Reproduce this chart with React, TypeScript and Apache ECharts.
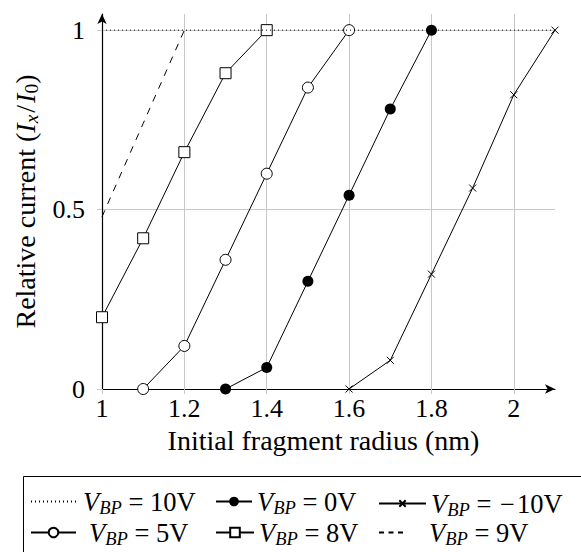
import React, { useEffect, useRef } from 'react';
import * as echarts from 'echarts';

const xTicks = [1, 1.2, 1.4, 1.6, 1.8, 2];
const yTicks = [0, 0.5, 1];

const seriesNames = ['10V', '0V', '\u221210V', '5V', '8V', '9V'];
const v10 = [[1, 1], [2.1, 1]];
const v0 = [[1.3, 0], [1.4, 0.06], [1.5, 0.3], [1.6, 0.54], [1.7, 0.78], [1.8, 1]];
const vm10 = [[1.6, 0], [1.7, 0.08], [1.8, 0.32], [1.9, 0.56], [2.0, 0.82], [2.1, 1]];
const v5 = [[1.1, 0], [1.2, 0.12], [1.3, 0.36], [1.4, 0.6], [1.5, 0.84], [1.6, 1]];
const v8 = [[1, 0.2], [1.1, 0.42], [1.2, 0.66], [1.3, 0.88], [1.4, 1]];
const v9 = [[1, 0.48], [1.1, 0.74], [1.2, 1]];

const FONT = '"Liberation Serif", "DejaVu Serif", serif';
const GRID = '#c8c8c8';
const LF = 26.5;
const LS = 18.5;
const NF = 28;
const NS = 19.5;

function legendFor(name: string, left: number, top: number, w: number, pad: number, opts: any = {}) {
  const minus = name.startsWith('\u2212');
  const rest = minus ? name.slice(1) : name;
  return {
    show: true,
    data: [name],
    left,
    top,
    padding: 0,
    itemWidth: w,
    itemHeight: opts.itemHeight ?? 12,
    selectedMode: false,
    ...(opts.hideSymbol ? { itemStyle: { opacity: 0 } } : {}),
    ...(opts.dash ? { lineStyle: { type: opts.dash } } : {}),
    formatter: () => `{v|V}{s|BP}{t| = }${minus ? '{m|\u2212}' : ''}{t|${rest}}`,
    textStyle: {
      color: '#000',
      fontFamily: FONT,
      rich: {
        v: { fontFamily: FONT, fontSize: LF, lineHeight: 24, fontStyle: 'italic', color: '#000', padding: [0, 0, 0, pad] },
        s: { fontFamily: FONT, fontSize: LS, lineHeight: 12, fontStyle: 'italic', color: '#000', padding: [12, 0, 0, 0] },
        t: { fontFamily: FONT, fontSize: LF, lineHeight: 24, color: '#000' },
        m: { fontFamily: FONT, fontSize: LF, lineHeight: 24, color: '#000', padding: [0, 2, 0, 2] },
      },
    },
  };
}

export default function App() {
  const ref = useRef<HTMLDivElement>(null);
  useEffect(() => {
    if (!ref.current) return;
    const chart = echarts.init(ref.current, null, { renderer: 'svg' });
    const line = { color: '#000', width: 1 };
    const open = { color: '#fff', borderColor: '#000', borderWidth: 1 };
    chart.setOption({
      animation: false,
      backgroundColor: '#fff',
      textStyle: { fontFamily: FONT },
      grid: { left: 102, right: 26, top: 14, bottom: 163 },
      xAxis: {
        type: 'value',
        min: 1,
        max: 2.1,
        name: 'Initial fragment radius (nm)',
        nameLocation: 'middle',
        nameGap: 37,
        nameTextStyle: { fontFamily: FONT, fontSize: NF, color: '#000', padding: [0, 10, 0, 0] },
        axisLine: { show: true, onZero: false, lineStyle: { color: '#000', width: 1.2 }, symbol: ['none', 'arrow'], symbolSize: [7, 10] },
        axisTick: { show: true, length: 5, customValues: xTicks, lineStyle: { color: GRID } },
        axisLabel: { customValues: xTicks, fontFamily: FONT, fontSize: 26, color: '#000', margin: 6, formatter: (v: number) => String(v) },
        splitLine: { show: true, lineStyle: { color: GRID, width: 1 } },
      },
      yAxis: {
        type: 'value',
        min: 0,
        max: 1.045,
        name: '{n|Relative current (}{i|I}{si|x}{sl|/}{i|I}{s|0}{n|)}',
        nameLocation: 'middle',
        nameGap: 58,
        nameTextStyle: {
          fontFamily: FONT,
          fontSize: NF,
          color: '#000',
          rich: {
            n: { fontFamily: FONT, fontSize: NF, lineHeight: 26, color: '#000' },
            sl: { fontFamily: FONT, fontSize: NF, lineHeight: 26, color: '#000', padding: [0, 2, 0, 2] },
            i: { fontFamily: FONT, fontSize: NF, lineHeight: 26, fontStyle: 'italic', color: '#000' },
            si: { fontFamily: FONT, fontSize: NS, lineHeight: 13, fontStyle: 'italic', color: '#000', padding: [13, 0, 0, 0] },
            s: { fontFamily: FONT, fontSize: NS, lineHeight: 13, color: '#000', padding: [13, 0, 0, 0] },
          },
        },
        axisLine: { show: true, onZero: false, lineStyle: { color: '#000', width: 1.2 }, symbol: ['none', 'arrow'], symbolSize: [7, 10] },
        axisTick: { show: true, length: 5, customValues: yTicks, lineStyle: { color: GRID } },
        axisLabel: { customValues: yTicks, fontFamily: FONT, fontSize: 26, color: '#000', margin: 17, formatter: (v: number) => String(v) },
        splitLine: { show: true, lineStyle: { color: GRID, width: 1 } },
      },
      legend: [
        legendFor(seriesNames[0], 30, 486, 47, 0, { hideSymbol: true }),
        legendFor(seriesNames[1], 215, 486, 36, 0),
        legendFor(seriesNames[2], 378, 488, 47, 0, { itemHeight: 8 }),
        legendFor(seriesNames[3], 30, 517, 45, 8),
        legendFor(seriesNames[4], 215, 517, 38, 0),
        legendFor(seriesNames[5], 378, 517, 28, 17, { hideSymbol: true, dash: [5, 4.5] }),
      ],
      graphic: [
        {
          type: 'rect',
          shape: { x: 23.5, y: 476.5, width: 620, height: 120 },
          style: { fill: 'none', stroke: '#000', lineWidth: 1 },
          silent: true,
        },
      ],
      series: [
        { name: seriesNames[0], type: 'line', data: v10, symbol: 'none', lineStyle: { ...line, type: [1, 3] }, itemStyle: { color: '#000' }, z: 5 },
        { name: seriesNames[1], type: 'line', data: v0, symbol: 'circle', symbolSize: 11, lineStyle: line, itemStyle: { color: '#000' } },
        {
          name: seriesNames[2], type: 'line', data: vm10,
          symbol: 'path://M0 0L10 10M10 0L0 10', symbolSize: 7,
          lineStyle: line, itemStyle: { color: 'transparent', borderColor: '#000', borderWidth: 1 },
        },
        { name: seriesNames[3], type: 'line', data: v5, symbol: 'circle', symbolSize: 11, lineStyle: line, itemStyle: open },
        { name: seriesNames[4], type: 'line', data: v8, symbol: 'rect', symbolSize: 11, lineStyle: line, itemStyle: open },
        { name: seriesNames[5], type: 'line', data: v9, symbol: 'none', lineStyle: { ...line, type: [7, 7] }, itemStyle: { color: '#000' } },
      ],
    });
    return () => chart.dispose();
  }, []);
  return <div ref={ref} style={{ position: 'fixed', left: 0, top: 0, width: 581, height: 552, background: '#fff' }} />;
}
